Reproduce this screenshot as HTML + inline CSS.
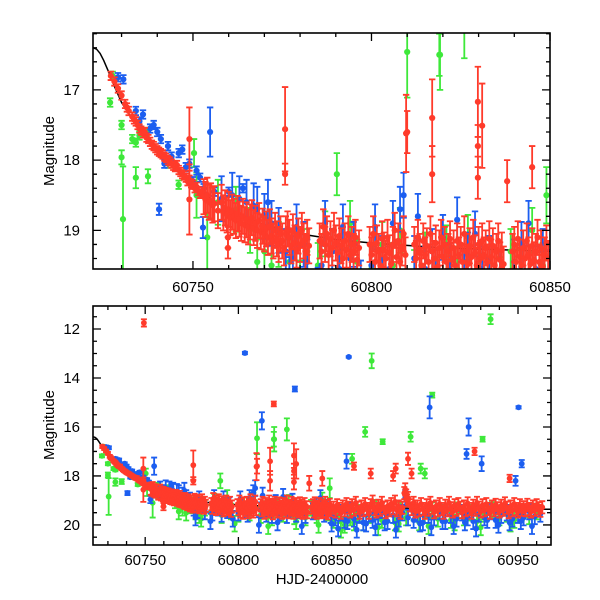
<!DOCTYPE html>
<html><head><meta charset="utf-8"><style>
html,body{margin:0;padding:0;background:#fff}
svg{display:block}
text{font-family:"Liberation Sans",sans-serif;fill:#000}
</style></head><body>
<svg id="chart" width="600" height="600" viewBox="0 0 600 600">
<defs>
<clipPath id="clipTop"><rect x="93" y="33" width="457" height="236"/></clipPath>
<clipPath id="clipBot"><rect x="93" y="306" width="458" height="239"/></clipPath>
</defs>
<g id="topPanel"></g>
<g id="botPanel"></g>
</svg>
<script>
const redT=[60727,60728,60729,60730,60731,60731.5,60732,60733,60733.5,60734,60734.5,60735,60735.5,60736,60736.5,60737,60737.5,60738,60738.5,60739,60739.5,60740,60740.5,60741,60741.5,60742,60742.5,60743,60743.5,60744,60744.5,60745,60745.5,60746,60746.5,60747,60747.5,60748,60748.5,60749,60749.5,60750,60750.5,60751,60751.5,60752,60752.5,60753,60753.5,60754,60754.5,60755,60755.5,60756,60757,60758,60758.5,60759,60759.5,60760,60760.5,60761,60761.5,60762,60762.5,60763,60763.5,60764,60764.5,60765,60765.5,60766,60766.5,60767,60767.5,60768,60768.5,60769,60769.5,60770,60770.5,60771,60771.5,60772,60772.5,60773,60773.5,60774,60774.5,60775,60775.5,60776,60776.5,60777,60777.5,60778,60778.5,60779,60779.5,60780,60780.5,60781,60781.5,60782,60782.5,60785.5,60786,60786.5,60787,60787.5,60788,60788.5,60789,60789.5,60790,60790.5,60791,60791.5,60792,60792.5,60793,60793.5,60794,60794.5,60795,60795.5,60796,60796.5,60799.5,60800,60800.5,60801,60801.5,60802,60802.5,60803,60803.5,60804,60804.5,60805,60805.5,60806,60806.5,60807,60807.5,60808,60808.5,60809,60809.5,60812,60812.5,60813,60813.5,60814,60814.5,60815,60815.5,60816,60816.5,60817,60817.5,60818,60818.5,60819,60819.5,60820,60820.5,60821,60821.5,60822,60822.5,60823,60823.5,60824,60824.5,60825,60825.5,60826,60826.5,60827,60827.5,60828,60828.5,60829,60829.5,60830,60830.5,60831,60831.5,60832,60832.5,60833,60833.5,60834,60834.5,60835,60835.5,60836,60836.5,60837,60839.5,60840,60840.5,60841,60841.5,60842,60842.5,60843,60843.5,60844,60844.5,60845,60845.5,60846,60846.5,60847,60847.5,60848,60848.5,60849,60849.5,60851,60852,60853,60854,60855,60856,60857,60858,60859,60860,60861,60862,60863,60864,60865,60866,60867,60868,60869,60870,60871,60872,60873,60874,60875,60876,60877,60878,60879,60880,60881,60882,60883,60884,60885,60886,60887,60888,60889,60889.5,60890,60890.5,60891,60892,60893,60894,60895,60896,60897,60898,60899,60900,60901,60902,60903,60904,60905,60906,60907,60908,60909,60910,60911,60912,60913,60914,60915,60916,60917,60918,60919,60920,60921,60922,60923,60924,60925,60926,60927,60928,60929,60930,60931,60932,60933,60934,60935,60936,60937,60938,60939,60940,60941,60942,60943,60944,60945,60946,60947,60948,60949,60950,60951,60952,60953,60954,60955,60956,60957,60958,60959,60960,60961,60962,60963];
const redM=[16.80,16.88,16.98,17.08,17.20,17.25,17.30,17.38,17.42,17.45,17.50,17.55,17.58,17.62,17.60,17.68,17.70,17.74,17.78,17.80,17.83,17.86,17.88,17.90,17.92,17.95,17.97,18.00,18.02,18.05,18.08,18.10,18.07,18.14,18.17,18.20,18.22,18.25,18.30,18.28,18.33,18.35,18.40,18.38,18.44,18.48,18.45,18.52,18.56,18.50,18.60,18.58,18.64,18.62,18.72,18.60,18.75,18.68,18.78,18.70,18.82,18.74,18.80,18.86,18.76,18.84,18.90,18.80,18.92,18.85,18.95,18.88,18.82,18.96,18.90,19.00,18.86,19.02,18.94,19.05,18.98,19.10,18.95,19.08,19.15,19.00,19.12,19.20,19.05,19.15,19.25,19.05,18.98,19.10,19.22,19.02,19.18,19.28,19.08,19.20,19.00,19.15,19.30,19.10,19.22,19.15,19.30,18.95,19.20,19.05,19.35,19.12,19.25,19.00,19.18,19.32,19.08,19.22,19.40,19.15,19.28,19.05,19.35,19.20,19.30,19.10,19.42,19.25,19.20,19.35,19.05,19.45,19.18,19.30,19.50,19.12,19.28,19.40,19.10,19.32,19.48,19.20,19.00,19.38,19.15,19.45,19.25,19.05,19.35,19.20,19.40,19.10,19.30,19.50,19.15,19.35,19.22,19.45,19.05,19.30,19.40,19.18,19.52,19.25,19.10,19.38,19.20,19.45,19.30,19.12,19.42,19.25,19.50,19.15,19.35,19.20,19.45,19.05,19.30,19.48,19.22,19.38,19.10,19.32,19.50,19.20,19.40,19.15,19.35,19.25,19.45,19.12,19.38,19.22,19.50,19.30,19.15,19.42,19.28,19.48,19.30,19.20,19.45,19.12,19.38,19.50,19.25,19.40,19.15,19.35,19.48,19.22,19.42,19.30,19.10,19.45,19.25,19.52,19.35,19.18,19.40,19.30,19.45,19.20,19.35,19.50,19.25,19.40,19.15,19.30,19.45,19.20,19.38,19.10,19.30,19.50,19.25,19.40,19.15,19.35,19.50,19.20,19.05,19.35,19.45,19.22,19.38,19.10,19.30,19.48,19.25,19.40,19.15,19.32,19.05,19.40,19.25,19.50,19.30,18.70,18.55,18.80,19.00,18.90,19.20,19.35,19.10,19.45,19.25,19.40,19.15,19.35,19.50,19.20,19.38,19.10,19.30,19.48,19.25,19.40,19.15,19.35,19.50,19.22,19.40,19.10,19.32,19.45,19.20,19.38,19.15,19.30,19.48,19.25,19.40,19.12,19.35,19.50,19.22,19.38,19.10,19.30,19.45,19.20,19.40,19.15,19.35,19.50,19.25,19.40,19.18,19.32,19.45,19.22,19.38,19.12,19.30,19.48,19.25,19.40,19.15,19.35,19.45,19.20,19.38,19.28,19.40,19.18,19.35,19.45,19.25,19.38,19.20,19.32,19.42,19.28];
const blueT=[60729,60730.5,60734,60735,60736,60738,60739,60740,60741,60742,60743,60744,60746,60747,60748,60749,60750,60751,60752,60753,60756,60758,60760,60761,60763,60764,60765,60767,60768,60770,60771,60772,60774,60776,60778,60779,60781,60782,60786,60787,60789,60791,60792,60794,60795,60800,60801,60803,60805,60806,60808,60809,60812,60813,60815,60817,60818,60820,60822,60824,60826,60827,60829,60831,60833,60836,60840,60842,60844,60846,60848,60849.5,60852,60855,60857,60860,60862,60865,60867,60870,60872,60875,60877,60880,60883,60886,60888,60891,60894,60896,60899,60902,60905,60908,60911,60914,60917,60920,60923,60926,60929,60932,60935,60938,60941,60944,60947,60950,60953,60956,60959,60962,60777,60785,60797,60811,60821,60834,60850,60853.5,60858.5,60863.5,60868.5,60873.5,60878.5,60884.5,60889.5,60897.5,60903.5,60909.5,60915.5,60921.5,60927.5,60933.5,60939.5,60945.5,60951.5,60957.5];
const blueM=[16.82,16.85,17.30,17.45,17.35,17.55,17.50,17.60,17.70,18.05,17.80,17.95,17.90,17.85,18.10,18.05,18.30,18.15,18.25,18.40,18.45,18.55,18.45,18.50,18.55,18.40,18.60,18.65,18.70,18.80,18.60,18.90,19.00,19.30,19.40,18.95,19.20,19.45,19.50,18.90,19.30,19.55,18.95,19.40,19.20,19.50,18.95,19.40,19.55,18.90,18.70,18.50,19.40,18.80,19.55,19.30,19.60,19.10,19.50,18.85,19.60,19.35,19.05,19.55,19.40,19.60,19.45,19.20,18.90,19.55,19.30,19.60,19.70,19.50,19.80,19.40,19.75,19.60,19.90,19.55,19.80,19.65,19.40,19.85,19.60,19.75,19.50,19.70,19.80,19.55,19.90,19.60,19.70,19.45,19.85,19.60,19.75,19.50,19.70,19.85,19.55,19.70,19.45,19.80,19.60,19.50,19.75,19.60,19.70,19.45,19.65,19.55,19.70,19.85,19.75,20.00,19.90,20.05,19.95,20.15,19.85,20.20,19.95,20.10,19.90,20.20,18.90,19.95,20.10,19.85,20.05,19.90,20.15,19.80,20.00,19.90,19.85,20.05];
const greenT=[60726.8,60727.5,60730,60733,60734,60735,60737,60743,60746,60751,60757,60762,60766,60770,60772,60774,60777,60779,60782,60785,60787,60789,60791,60794,60796,60800,60803,60806,60808,60812,60815,60818,60821,60824,60827,60830,60833,60836,60839,60842,60845,60848,60851,60854,60857,60860,60864,60867,60870,60874,60877,60880,60884,60887,60890,60894,60897,60900,60904,60907,60910,60914,60918,60921,60925,60928,60932,60936,60940,60944,60948,60952,60956,60960,60768,60780,60798,60816,60831,60843,60855,60862,60875,60886,60902,60916,60930,60946];
const greenM=[17.18,16.80,17.50,17.70,17.75,17.65,17.60,18.05,18.35,18.50,18.60,18.70,19.00,19.30,19.50,19.20,19.45,19.60,19.30,19.50,19.05,19.30,19.60,18.90,19.45,19.55,19.20,19.50,19.00,19.60,19.35,19.70,19.25,19.55,19.10,19.65,19.40,19.70,19.30,19.60,19.00,19.50,19.80,19.60,20.00,19.70,19.50,19.90,19.60,19.30,19.80,19.55,19.90,19.40,19.70,19.50,19.90,19.60,19.40,19.75,19.50,19.80,19.40,19.70,19.50,19.85,19.55,19.40,19.70,19.55,19.80,19.50,19.65,19.45,19.45,19.75,19.95,20.05,19.85,20.00,20.20,19.90,20.10,19.95,20.05,19.90,20.10,19.95];
const redOutT=[60749.3,60749,60749,60759.8,60759.8,60775.8,60775.8,60809.7,60817,60817,60829.8,60831,60829.8,60829.8,60819,60810,60862,60871,60884.4,60891,60892.9,60883,60926.7,60945.5,60838,60845];
const redOutM=[11.75,17.70,18.56,19.10,19.25,17.56,18.20,17.62,17.40,18.20,17.17,17.51,17.80,18.25,15.06,17.60,17.60,17.90,17.70,17.30,17.90,18.00,17.00,18.10,18.30,18.10];
const redOutE=[0.15,0.45,0.5,0.15,0.15,0.6,0.15,0.55,0.55,0.4,0.5,0.6,0.3,0.3,0.1,0.3,0.15,0.2,0.2,0.25,0.2,0.2,0.15,0.15,0.3,0.3];
const blueOutT=[60740.5,60752.8,60754.8,60803.5,60859.2,60830.3,60812.6,60858,60902.6,60923.5,60950.3,60922.4,60930.5,60952,60948.7];
const blueOutM=[18.70,18.96,17.60,12.98,13.14,14.45,15.75,17.40,15.20,16.00,15.20,17.10,17.50,17.50,18.20];
const blueOutE=[0.08,0.15,0.35,0.05,0.03,0.1,0.35,0.3,0.45,0.35,0.05,0.2,0.3,0.15,0.2];
const greenOutT=[60730,60730.4,60734,60737.4,60750.3,60754,60790.3,60810,60819.2,60826,60819,60861,60868,60871.5,60935.3,60904,60877.4,60892.4,60931,60897.8,60900,60849];
const greenOutM=[17.96,18.84,18.25,18.23,17.90,19.10,18.20,16.46,16.50,16.10,16.50,17.30,16.20,13.30,11.60,14.70,16.60,16.40,16.50,17.70,17.90,18.50];
const greenOutE=[0.1,0.75,0.15,0.1,0.2,0.6,0.3,0.65,0.5,0.45,0.3,0.2,0.2,0.3,0.2,0.1,0.1,0.2,0.1,0.2,0.2,0.4];
const modelT=[60722,60723,60724,60725,60726,60727,60728,60730,60733,60736,60740,60745,60750,60755,60760,60770,60780,60790,60800,60820,60850,60880,60900,60930,60968];
const modelM=[16.40,16.42,16.48,16.58,16.70,16.82,16.95,17.18,17.42,17.62,17.88,18.12,18.35,18.55,18.70,18.92,19.05,19.13,19.18,19.25,19.30,19.32,19.33,19.35,19.36];
const errBright=0.06, errFaintRed=0.25, errFaintBG=0.32, errSplit=18.5;
const topXTicks=[60750,60800,60850], topYTicks=[17,18,19];
const botXTicks=[60750,60800,60850,60900,60950], botYTicks=[12,14,16,18,20];

const NS='http://www.w3.org/2000/svg';
function mk(tag,attrs,parent){const e=document.createElementNS(NS,tag);for(const k in attrs)e.setAttribute(k,attrs[k]);parent.appendChild(e);return e;}
const panels=[
 {g:document.getElementById('topPanel'),x0:93,x1:550,y0:33,y1:269,t0:60722,t1:60850,m0:16.19,m1:19.55,clip:'url(#clipTop)',xt:topXTicks,yt:topYTicks,xminor:10,yminor:0.2,labelY:292,yLabelX:80,magY:151,name:'top',r:3.1,cap:3.2},
 {g:document.getElementById('botPanel'),x0:93,x1:551,y0:306,y1:545,t0:60722,t1:60967.7,m0:11.06,m1:20.82,clip:'url(#clipBot)',xt:botXTicks,yt:botYTicks,xminor:10,yminor:0.5,labelY:565,yLabelX:80,magY:425,name:'bottom',r:2.9,cap:3}
];
const colors={green:'#3ee83a',blue:'#1c5ef0',red:'#ff3b2b'};
panels.forEach(p=>{
 const X=t=>p.x0+(t-p.t0)/(p.t1-p.t0)*(p.x1-p.x0);
 const Y=m=>p.y0+(m-p.m0)/(p.m1-p.m0)*(p.y1-p.y0);
 const data=mk('g',{'clip-path':p.clip},p.g);
 
 
 let d='';modelT.forEach((t,i)=>{d+=(i?'L':'M')+X(t).toFixed(1)+' '+Y(modelM[i]).toFixed(1);});
 const ml=mk('path',{d:d,fill:'none',stroke:'#000','stroke-width':1.5},data);
 
 
 function series(name,T,M,E,col,faint){
  const sg=mk('g',{fill:col,stroke:col},data);
  
  
  T.forEach((t,i)=>{
   const m=M[i];const e=E?E[i]:(m<errSplit?errBright:faint);
   const x=X(t),y=Y(m),ya=Y(m-e),yb=Y(m+e),c2=p.cap;
   mk('path',{d:`M${x} ${ya}V${yb}M${x-c2} ${ya}h${2*c2}M${x-c2} ${yb}h${2*c2}`,'stroke-width':1.8,fill:'none'},sg);
   const c=mk('circle',{cx:x,cy:y,r:p.r,stroke:'none'},sg);
   
   
  });
 }
 series('green-series',greenT,greenM,null,colors.green,errFaintBG);
 series('green-outliers',greenOutT,greenOutM,greenOutE,colors.green);
 series('blue-series',blueT,blueM,null,colors.blue,errFaintBG);
 series('blue-outliers',blueOutT,blueOutM,blueOutE,colors.blue);
 series('red-series',redT,redM,null,colors.red,errFaintRed);
 series('red-outliers',redOutT,redOutM,redOutE,colors.red);
 const fr=mk('rect',{x:p.x0,y:p.y0,width:p.x1-p.x0,height:p.y1-p.y0,fill:'none',stroke:'#000','stroke-width':1.6},p.g);
 
 
 let tk='';
 for(let t=Math.ceil(p.t0/p.xminor)*p.xminor;t<=p.t1;t+=p.xminor){
  const major=t%50===0;const L=major?8:4;const x=X(t);
  tk+=`M${x} ${p.y1}v${-L}M${x} ${p.y0}v${L}`;
 }
 const nm=Math.round((p.m1-p.m0)/p.yminor)+2;
 for(let k=0;k<nm;k++){
  const m=Math.ceil(p.m0/p.yminor-1e-6)*p.yminor+k*p.yminor; if(m>p.m1)break;
  const step=p.yt[1]-p.yt[0];
  const major=Math.abs(m-Math.round(m/step)*step)<1e-6;
  const L=major?8:4;const y=Y(m);
  tk+=`M${p.x0} ${y}h${L}M${p.x1} ${y}h${-L}`;
 }
 const tp=mk('path',{d:tk,stroke:'#000','stroke-width':1.3,fill:'none'},p.g);
 
 
 p.xt.forEach(t=>{const tx=mk('text',{x:X(t),y:p.labelY,'text-anchor':'middle','font-size':15},p.g);tx.textContent=t;
  
  });
 p.yt.forEach(m=>{const tx=mk('text',{x:p.yLabelX,y:Y(m)+5,'text-anchor':'end','font-size':15},p.g);tx.textContent=m;
  
  });
 const yl=mk('text',{x:0,y:0,transform:`translate(54 ${p.magY}) rotate(-90)`,'text-anchor':'middle','font-size':15},p.g);
 yl.textContent='Magnitude';
 
 
});
const xt=mk('text',{x:322,y:584,'text-anchor':'middle','font-size':15,'font-family':'Liberation Mono, monospace'},document.getElementById('botPanel'));
xt.textContent='HJD-2400000';


</script>
</body></html>
